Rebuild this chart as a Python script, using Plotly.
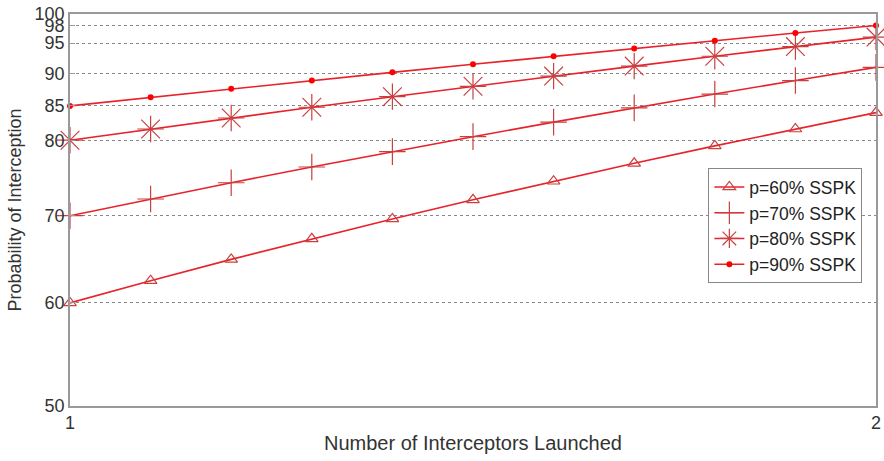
import plotly.graph_objects as go

interceptors = [1.0, 1.1, 1.2, 1.3, 1.4, 1.5, 1.6, 1.7, 1.8, 1.9, 2.0]
p60 = [60.0, 62.4, 64.8, 67.2, 69.6, 72.0, 74.4, 76.8, 79.2, 81.6, 84.0]
p70 = [70.0, 72.1, 74.2, 76.3, 78.4, 80.5, 82.6, 84.7, 86.8, 88.9, 91.0]
p80 = [80.0, 81.6, 83.2, 84.8, 86.4, 88.0, 89.6, 91.2, 92.8, 94.4, 96.0]
p90 = [85.0, 86.3, 87.6, 88.9, 90.2, 91.5, 92.8, 94.1, 95.4, 96.7, 98.0]
series_names = ["p=60% SSPK", "p=70% SSPK", "p=80% SSPK", "p=90% SSPK"]
y_ticks = [50, 60, 70, 80, 85, 90, 95, 98, 100]
x_ticks = [1, 2]

line_color = "#e8222a"
mk_color = "#c8403f"

styles = [
    dict(symbol="triangle-up-open", size=11, color=mk_color, line=dict(width=1.2, color=mk_color)),
    dict(symbol="cross-thin-open", size=19, color=mk_color, line=dict(width=1.2, color=mk_color)),
    dict(symbol="asterisk-open", size=22, color=mk_color, line=dict(width=1.2, color=mk_color)),
    dict(symbol="circle", size=6, color="#ff0000", line=dict(width=0)),
]

fig = go.Figure()
for name, vals, st in zip(series_names, [p60, p70, p80, p90], styles):
    fig.add_trace(go.Scatter(
        x=interceptors, y=vals, mode="lines+markers", name=name,
        line=dict(color=line_color, width=1.6),
        marker=st, cliponaxis=False,
    ))

font = "Liberation Sans, Arial, sans-serif"
fig.update_layout(
    width=884, height=461,
    margin=dict(l=70, r=8, t=14, b=55),
    paper_bgcolor="white", plot_bgcolor="white",
    font=dict(family=font, color="#333333"),
    showlegend=True,
    legend=dict(
        x=0.792, y=0.607, xanchor="left", yanchor="top",
        bgcolor="white", bordercolor="#888888", borderwidth=1,
        font=dict(size=17.5, family=font, color="#222222"),
        tracegroupgap=0, itemwidth=30,
    ),
    xaxis=dict(
        range=[1, 2], tickvals=x_ticks, ticktext=[str(t) for t in x_ticks],
        showgrid=False, zeroline=False, automargin=False,
        ticklabeloverflow="allow",
        showline=True, linecolor="#999999", linewidth=1.5, mirror=True,
        ticks="inside", ticklen=5, tickcolor="#999999",
        tickfont=dict(size=18, family=font, color="#333333"),
        title=dict(text="Number of Interceptors Launched", standoff=4,
                   font=dict(size=20, family=font, color="#333333")),
    ),
    yaxis=dict(
        type="log", range=[1.69897, 2.0],
        tickvals=y_ticks, ticktext=[str(t) for t in y_ticks],
        showgrid=True, gridcolor="#888888", griddash="3px,3px", gridwidth=1,
        zeroline=False, automargin=False,
        ticklabeloverflow="allow",
        showline=True, linecolor="#999999", linewidth=1.5, mirror=True,
        ticks="inside", ticklen=5, tickcolor="#999999",
        tickfont=dict(size=18, family=font, color="#333333"),
        title=dict(text="Probability of Interception", standoff=8,
                   font=dict(size=18, family=font, color="#333333")),
    ),
)

fig.write_html(
    "out.html",
    config={"displayModeBar": False},
    post_script="document.body.style.margin='0';document.body.style.overflow='hidden';",
)
